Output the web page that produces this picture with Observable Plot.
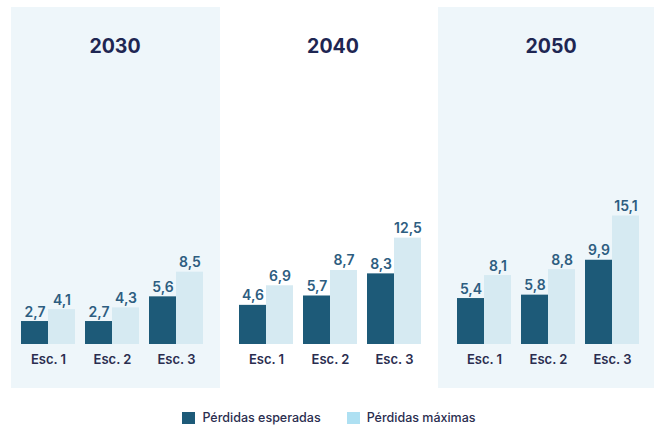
<!DOCTYPE html>
<html>
<head>
<meta charset="utf-8">
<script src="https://cdn.jsdelivr.net/npm/d3@7"></script>
<script src="https://cdn.jsdelivr.net/npm/@observablehq/plot@0.6"></script>
<style>
  html, body { margin: 0; padding: 0; background: #ffffff; }
  body { width: 654px; height: 427px; overflow: hidden; font-family: Inter, "Noto Sans", sans-serif; }
  #chart svg { display: block; }
  .legend { display: flex; justify-content: center; gap: 26px; height: 27px; align-items: flex-start; padding-top: 11px; box-sizing: border-box; font-size: 12.5px; font-weight: 500; color: #2a2d4f; margin-left: 4px; }
  .legend .item { display: flex; align-items: center; gap: 7px; line-height: 14px; }
  .legend .sw { width: 13px; height: 12px; display: inline-block; }
</style>
</head>
<body>
<div id="chart"></div>
<div class="legend" id="legend"></div>
<script>
// ---- data ----
const years = ["2030", "2040", "2050"];
const escenarios = ["Esc. 1", "Esc. 2", "Esc. 3"];
const series = ["Pérdidas esperadas", "Pérdidas máximas"];
const esperadas = [
  [2.7, 2.7, 5.6],
  [4.6, 5.7, 8.3],
  [5.4, 5.8, 9.9]
];
const maximas = [
  [4.1, 4.3, 8.5],
  [6.9, 8.7, 12.5],
  [8.1, 8.8, 15.1]
];

const colors = { dark: "#1d5a78", light: "#d6eaf2", legendLight: "#aee0f2", panel: "#eef6fa" };

const rowsE = [], rowsM = [];
years.forEach((yr, i) => escenarios.forEach((e, j) => {
  rowsE.push({ year: yr, esc: e, v: esperadas[i][j] });
  rowsM.push({ year: yr, esc: e, v: maximas[i][j] });
}));

const fmt = v => d3.format(".1f")(v).replace(".", ",");
const font = "Inter, 'Noto Sans', sans-serif";

const base = {
  width: 654,
  height: 400,
  marginTop: 7,
  marginBottom: 56,
  marginLeft: 11,
  marginRight: 0,
  style: { fontFamily: font, background: "transparent" },
  fx: { domain: years, paddingInner: 0.0505, paddingOuter: 0, axis: null, label: null },
  x: { domain: escenarios, paddingInner: 0.163, paddingOuter: 0.186, align: 0.375, axis: null, label: null },
  y: { domain: [0, 39.6], axis: null, label: null }
};

// probe to get band width
const probe = Plot.plot({ ...base, marks: [Plot.barY(rowsE, { x: "esc", y: "v", fx: "year" })] });
const bw = probe.scale("x").bandwidth;
const half = bw / 2;

const plot = Plot.plot({
  ...base,
  marks: [
    Plot.rect(["2030"], { fx: d => d, fill: colors.panel, insetBottom: -44, insetRight: -2 }),
    Plot.rect(["2050"], { fx: d => d, fill: colors.panel, insetBottom: -44, insetLeft: -9 }),
    Plot.text(years, { fx: d => d, text: d => d, frameAnchor: "top", lineAnchor: "bottom", dy: 45, fontSize: 19.5, fontWeight: 700, fill: "#1e2652" }),
    Plot.barY(rowsE, { x: "esc", y: "v", fx: "year", fill: colors.dark, insetRight: half }),
    Plot.barY(rowsM, { x: "esc", y: "v", fx: "year", fill: colors.light, insetLeft: half }),
    Plot.text(rowsE, { x: "esc", y: "v", fx: "year", text: d => fmt(d.v), dx: -half / 2, dy: -5, lineAnchor: "bottom", fontSize: 14, fontWeight: 600, fill: "#2d5d80" }),
    Plot.text(rowsM, { x: "esc", y: "v", fx: "year", text: d => fmt(d.v), dx: half / 2, dy: -5, lineAnchor: "bottom", fontSize: 14, fontWeight: 600, fill: "#2d5d80" }),
    Plot.axisX({ tickSize: 0, tickPadding: 10, fontSize: 13, fontWeight: 600, fill: "#2a2d4f", label: null })
  ]
});
document.getElementById("chart").appendChild(plot);

// legend
const legend = document.getElementById("legend");
[[series[0], colors.dark], [series[1], colors.legendLight]].forEach(([name, c]) => {
  const item = document.createElement("div");
  item.className = "item";
  const sw = document.createElement("span");
  sw.className = "sw";
  sw.style.background = c;
  const t = document.createElement("span");
  t.textContent = name;
  item.appendChild(sw);
  item.appendChild(t);
  legend.appendChild(item);
});
</script>
</body>
</html>
